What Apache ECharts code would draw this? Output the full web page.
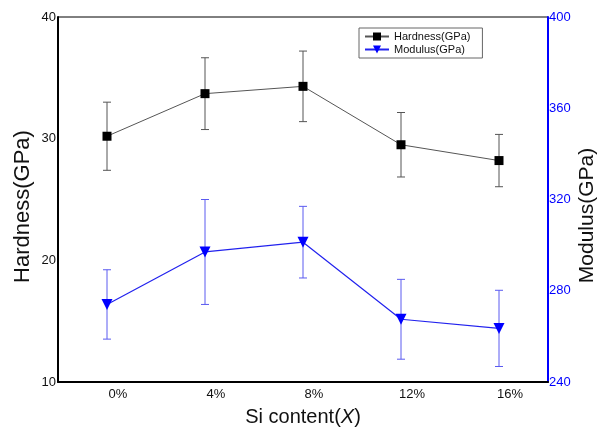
<!DOCTYPE html>
<html><head><meta charset="utf-8">
<script src="https://cdn.jsdelivr.net/npm/echarts@6/dist/echarts.min.js"></script>
<style>html,body{margin:0;padding:0;background:#fff}#c{width:597px;height:427px}</style>
</head><body><div id="c"></div>
<script>
var categories = ['0%', '4%', '8%', '12%', '16%'];
var hardness = [30.2, 33.7, 34.3, 29.5, 28.2];
var hardnessErr = [2.8, 2.95, 2.9, 2.65, 2.15];
var modulus = [274.0, 297.0, 301.3, 267.5, 263.5];
var modulusErr = [15.2, 23.0, 15.7, 17.5, 16.7];
var leftTicks = [10, 40, 10];   // min, max, interval
var rightTicks = [240, 400, 40];

function errData(vals, errs) {
  return vals.map(function (v, i) { return [i, v - errs[i], v + errs[i]]; });
}
function errRender(color) {
  return function (params, api) {
    var lo = api.coord([api.value(0), api.value(1)]);
    var hi = api.coord([api.value(0), api.value(2)]);
    var hw = 4;
    var st = { stroke: color, lineWidth: 1 };
    return { type: 'group', children: [
      { type: 'line', shape: { x1: lo[0], y1: lo[1], x2: hi[0], y2: hi[1] }, style: st },
      { type: 'line', shape: { x1: lo[0] - hw, y1: lo[1], x2: lo[0] + hw, y2: lo[1] }, style: st },
      { type: 'line', shape: { x1: hi[0] - hw, y1: hi[1], x2: hi[0] + hw, y2: hi[1] }, style: st }
    ]};
  };
}
var font = 'Liberation Sans, Arial, sans-serif';
var chart = echarts.init(document.getElementById('c'));
chart.setOption({
  animation: false,
  textStyle: { fontFamily: font },
  grid: { left: 58, right: 49, top: 17, bottom: 45, show: true, borderColor: '#000', borderWidth: 1,
          outerBoundsMode: 'none', containLabel: false },
  legend: {
    orient: 'vertical', left: 359, top: 28, itemGap: 2, itemWidth: 24, itemHeight: 10,
    borderColor: '#666', borderWidth: 1, padding: [3, 12, 3, 5], backgroundColor: '#fff',
    textStyle: { fontSize: 11, color: '#111', fontFamily: font },
    data: ['Hardness(GPa)', 'Modulus(GPa)']
  },
  xAxis: {
    type: 'category', data: categories, boundaryGap: true,
    axisLine: { lineStyle: { color: '#000', width: 2 } },
    axisTick: { show: false },
    axisLabel: { fontSize: 13, color: '#111', margin: 6, padding: [0, 0, 0, 22] },
    name: '{a|Si content(}{b|X}{a|)}', nameLocation: 'middle', nameGap: 25, nameMoveOverlap: false,
    nameTextStyle: { rich: {
      a: { fontSize: 20, color: '#111', fontFamily: font },
      b: { fontSize: 20, color: '#111', fontStyle: 'italic', fontFamily: font } } }
  },
  yAxis: [{
    type: 'value', min: leftTicks[0], max: leftTicks[1], interval: leftTicks[2],
    splitLine: { show: false },
    axisLine: { show: true, lineStyle: { color: '#000', width: 2 } },
    axisTick: { show: false },
    axisLabel: { fontSize: 13, color: '#111', margin: 2 },
    name: 'Hardness(GPa)', nameLocation: 'middle', nameGap: 24, nameMoveOverlap: false,
    nameTextStyle: { fontSize: 22, color: '#111', padding: [0, 14, 0, 0] }
  }, {
    type: 'value', min: rightTicks[0], max: rightTicks[1], interval: rightTicks[2],
    splitLine: { show: false },
    axisLine: { show: true, lineStyle: { color: '#0000ff', width: 2 } },
    axisTick: { show: false },
    axisLabel: { fontSize: 13, color: '#0000ff', margin: 1 },
    name: 'Modulus(GPa)', nameLocation: 'middle', nameGap: 29, nameRotate: 90, nameMoveOverlap: false,
    nameTextStyle: { fontSize: 21, color: '#111', padding: [0, 32, 0, 0] }
  }],
  series: [{
    type: 'custom', name: 'hErr', yAxisIndex: 0, renderItem: errRender('#555'),
    data: errData(hardness, hardnessErr), z: 1, silent: true
  }, {
    type: 'custom', name: 'mErr', yAxisIndex: 1, renderItem: errRender('#5a5af0'),
    data: errData(modulus, modulusErr), z: 1, silent: true
  }, {
    type: 'line', name: 'Hardness(GPa)', yAxisIndex: 0, data: hardness,
    symbol: 'rect', symbolSize: 9, lineStyle: { color: '#555', width: 1 },
    itemStyle: { color: '#000' }, z: 3
  }, {
    type: 'line', name: 'Modulus(GPa)', yAxisIndex: 1, data: modulus,
    symbol: 'triangle', symbolRotate: 180, symbolSize: 11,
    lineStyle: { color: '#2222ee', width: 1.2 }, itemStyle: { color: '#0000ff' }, z: 3
  }]
});
</script></body></html>
